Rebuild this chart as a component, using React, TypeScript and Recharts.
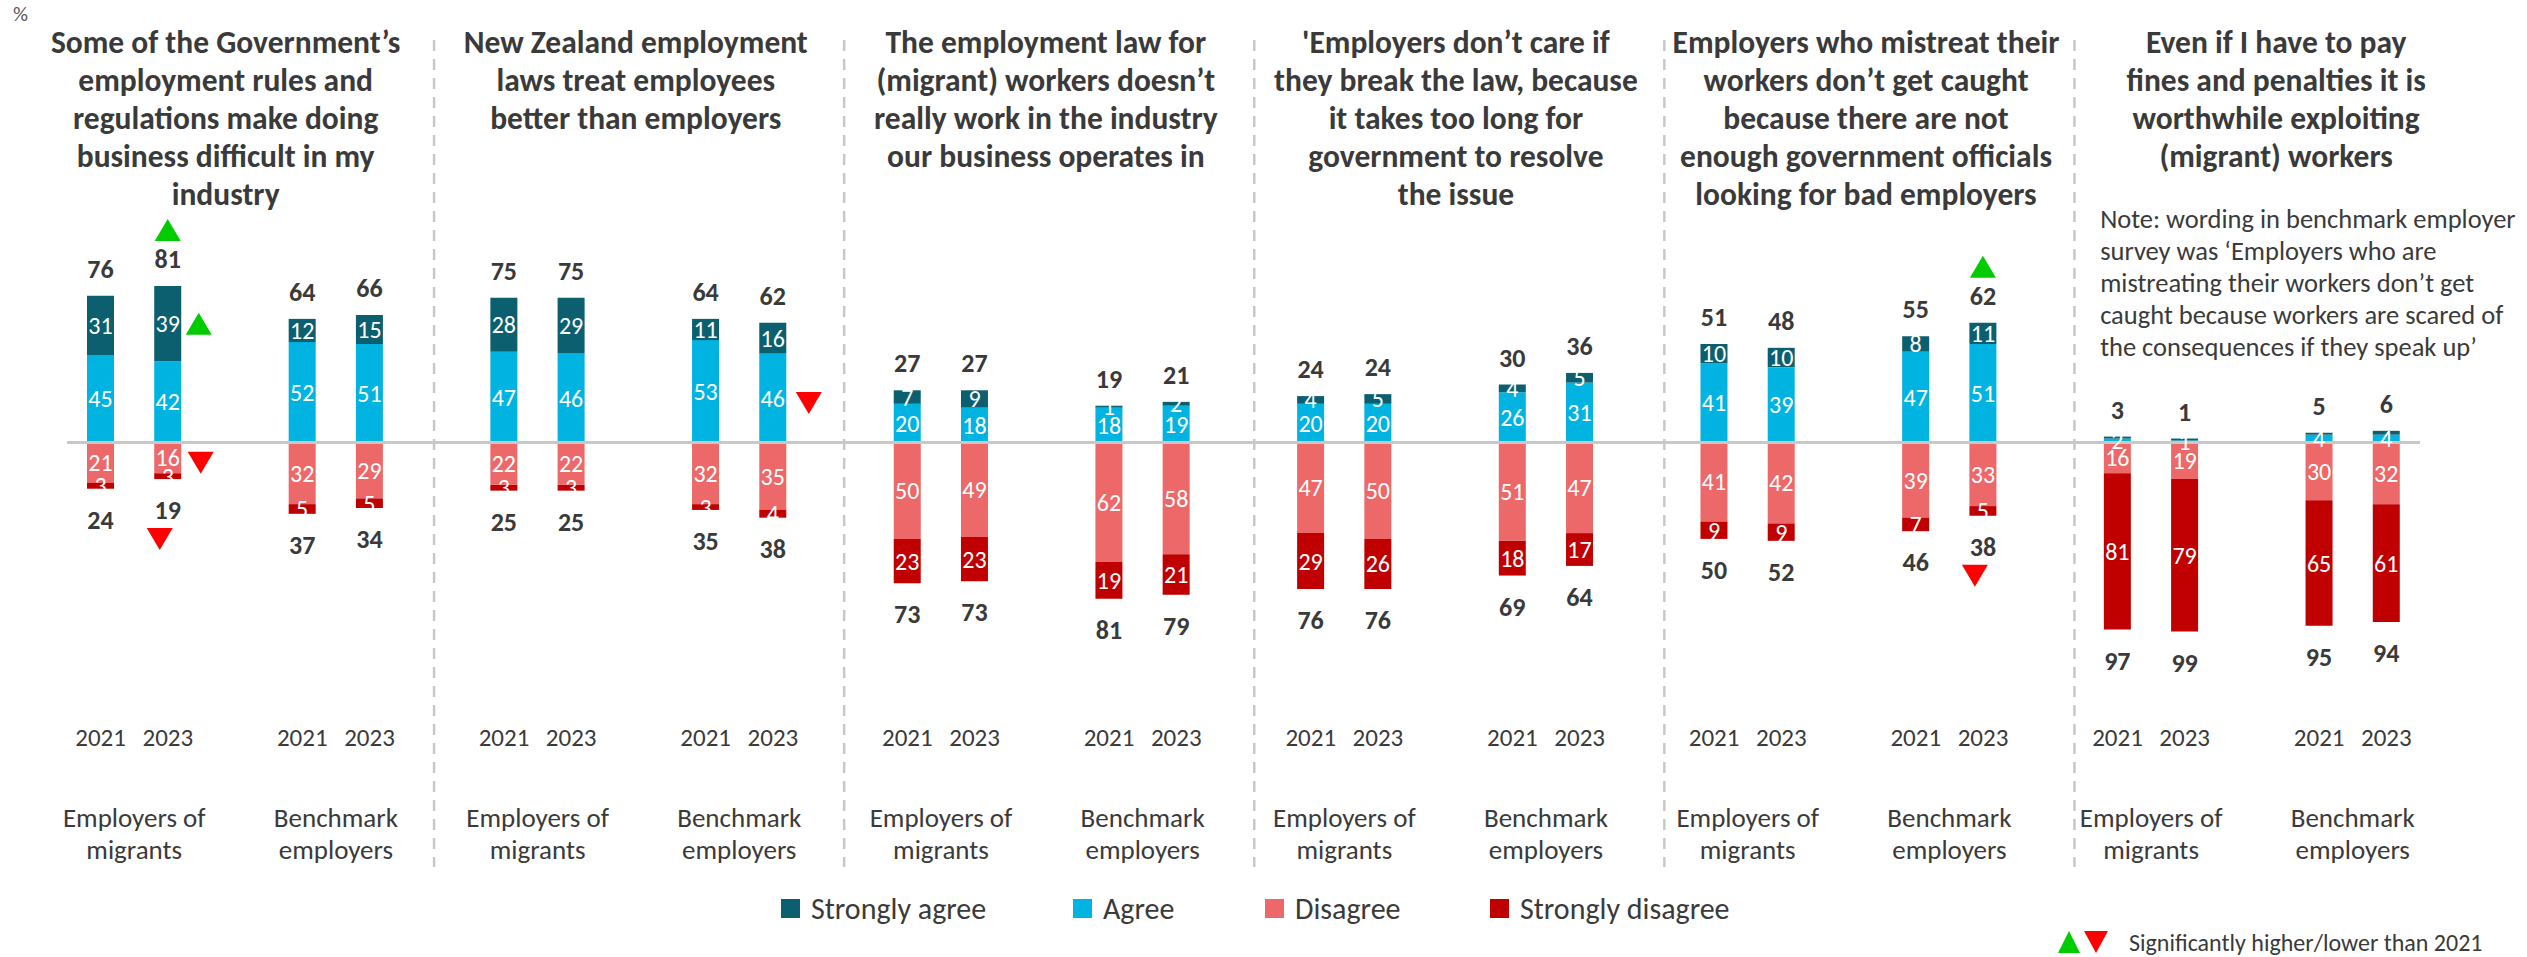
import { BarChart, Bar, XAxis, YAxis, ReferenceLine, LabelList } from "recharts"

// 6 statements x 4 bars (EoM 2021, EoM 2023, Benchmark 2021, Benchmark 2023)
const strongAgree = [31, 39, 12, 15, 28, 29, 11, 16, 7, 9, 1, 2, 4, 5, 4, 5, 10, 10, 8, 11, 1, 1, 1, 2]
const agree = [45, 42, 52, 51, 47, 46, 53, 46, 20, 18, 18, 19, 20, 20, 26, 31, 41, 39, 47, 51, 2, 1, 4, 4]
const disagree = [21, 16, 32, 29, 22, 22, 32, 35, 50, 49, 62, 58, 47, 50, 51, 47, 41, 42, 39, 33, 16, 19, 30, 32]
const strongDisagree = [3, 3, 5, 5, 3, 3, 3, 4, 23, 23, 19, 21, 29, 26, 18, 17, 9, 9, 7, 5, 81, 79, 65, 61]
const agreeTotal = [76, 81, 64, 66, 75, 75, 64, 62, 27, 27, 19, 21, 24, 24, 30, 36, 51, 48, 55, 62, 3, 1, 5, 6]
const disagreeTotal = [24, 19, 37, 34, 25, 25, 35, 38, 73, 73, 81, 79, 76, 76, 69, 64, 50, 52, 46, 38, 97, 99, 95, 94]

const years = ["2021", "2023", "2021", "2023"]
const groups = [["Employers of", "migrants"], ["Benchmark", "employers"]]

const titles = [
  ["Some of the Government’s", "employment rules and", "regulations make doing", "business difficult in my", "industry"],
  ["New Zealand employment", "laws treat employees", "better than employers"],
  ["The employment law for", "(migrant) workers doesn’t", "really work in the industry", "our business operates in"],
  ["'Employers don’t care if", "they break the law, because", "it takes too long for", "government to resolve", "the issue"],
  ["Employers who mistreat their", "workers don’t get caught", "because there are not", "enough government officials", "looking for bad employers"],
  ["Even if I have to pay", "fines and penalties it is", "worthwhile exploiting", "(migrant) workers"],
]
const noteLines = [
  "Note: wording in benchmark employer",
  "survey was ‘Employers who are",
  "mistreating their workers don’t get",
  "caught because workers are scared of",
  "the consequences if they speak up’",
]

// significance vs 2021
type SigMark = { bar: number; at: "agreeTotal" | "strongAgree" | "agree" | "disagree" | "disagreeTotal"; dir: "up" | "down" }
const sigMarks: SigMark[] = [
  { bar: 1, at: "agreeTotal", dir: "up" },
  { bar: 1, at: "strongAgree", dir: "up" },
  { bar: 1, at: "disagree", dir: "down" },
  { bar: 1, at: "disagreeTotal", dir: "down" },
  { bar: 7, at: "agree", dir: "down" },
  { bar: 19, at: "agreeTotal", dir: "up" },
  { bar: 19, at: "disagreeTotal", dir: "down" },
]
const hiddenSaLabels = [20, 21, 22, 23]

// panel frame, in slot units
const separators = [5.46, 11.56, 17.66, 23.76, 29.86]
const titleCenters = [2.36, 8.46, 14.56, 20.66, 26.76, 32.86]

const PANELS = 6
const SLOTS = 35
const W = 2527
const H = 957
const MARGIN = { top: 40, right: 107, bottom: 89, left: 67 }
const SLOT_W = (W - MARGIN.left - MARGIN.right) / SLOTS
const PLOT_TOP = MARGIN.top
const PLOT_BOTTOM = H - MARGIN.bottom - 1
const FONT = "Carlito, Calibri, Lato, 'Noto Sans', sans-serif"

const C_SA = "#0B5F6E"
const C_A = "#00B3E0"
const C_D = "#EC6869"
const C_SD = "#C00000"
const GREEN = "#00CC00"
const RED = "#FF0000"
const TEXT = "#3A3A3A"
const GRID = "#C8C8C8"

type Row = { key: string; slot: number; panel: number; local: number; bar: number | null; sa?: number; a?: number; d?: number; sd?: number }

const rows: Row[] = []
for (let p = 0; p < PANELS; p++) {
  for (let s = 0; s < 6; s++) {
    if (rows.length >= SLOTS) break
    const slot = rows.length
    const local = s < 2 ? s : s === 3 || s === 4 ? s - 1 : -1
    if (local < 0) {
      rows.push({ key: `gap${p}-${s}`, slot, panel: p, local: s, bar: null })
      continue
    }
    const b = p * 4 + local
    rows.push({ key: `b${b}`, slot, panel: p, local: s, bar: b, sa: strongAgree[b], a: agree[b], d: -disagree[b], sd: -strongDisagree[b] })
  }
}
const rowByKey: Record<string, Row> = Object.fromEntries(rows.map(r => [r.key, r]))

function box(props: any) {
  const vb = props.viewBox && props.viewBox.width != null ? props.viewBox : props
  const x = Number(vb.x), y = Number(vb.y), w = Number(vb.width), h = Number(vb.height)
  return { cx: x + w / 2, top: Math.min(y, y + h), bottom: Math.max(y, y + h) }
}

function Tri({ cx, cy, dir }: { cx: number; cy: number; dir: "up" | "down" }) {
  const hw = 13, hh = 11
  const pts = dir === "up"
    ? `${cx - hw},${cy + hh} ${cx + hw},${cy + hh} ${cx},${cy - hh}`
    : `${cx - hw},${cy - hh} ${cx + hw},${cy - hh} ${cx},${cy + hh}`
  return <polygon points={pts} fill={dir === "up" ? GREEN : RED} />
}

const segValues: Record<string, number[]> = { sa: strongAgree, a: agree, d: disagree, sd: strongDisagree }

const makeLabel = (key: "sa" | "a" | "d" | "sd") => (props: any) => {
  const bar = props.value
  if (bar == null || typeof bar !== "number") return null
  const { cx, top, bottom } = box(props)
  const mid = (top + bottom) / 2
  const showSeg = !(key === "sa" && hiddenSaLabels.includes(bar))
  const marks = sigMarks.filter(m => m.bar === bar)
  return (
    <g>
      {showSeg && (
        <text x={cx} y={mid} textAnchor="middle" dominantBaseline="central" fill="#fff" fontSize={24} fontFamily={FONT}>
          {segValues[key][bar]}
        </text>
      )}
      {key === "sa" && (
        <text x={cx} y={top - 27} textAnchor="middle" dominantBaseline="central" fill={TEXT} fontSize={26} fontWeight={700} fontFamily={FONT}>
          {agreeTotal[bar]}
        </text>
      )}
      {key === "sd" && (
        <text x={cx} y={bottom + 31} textAnchor="middle" dominantBaseline="central" fill={TEXT} fontSize={26} fontWeight={700} fontFamily={FONT}>
          {disagreeTotal[bar]}
        </text>
      )}
      {marks.map((m, i) => {
        if (key === "sa" && m.at === "agreeTotal") return <Tri key={i} cx={cx} cy={top - 56} dir={m.dir} />
        if (key === "sa" && m.at === "strongAgree") return <Tri key={i} cx={cx + 31} cy={mid} dir={m.dir} />
        if (key === "a" && m.at === "agree") return <Tri key={i} cx={cx + 36} cy={mid + 5} dir={m.dir} />
        if (key === "d" && m.at === "disagree") return <Tri key={i} cx={cx + 33} cy={mid + 5} dir={m.dir} />
        if (key === "sd" && m.at === "disagreeTotal") return <Tri key={i} cx={cx - 8} cy={bottom + 60} dir={m.dir} />
        return null
      })}
    </g>
  )
}

// one tick per slot: year + group label under bars, title over the middle gap, separator in the trailing gap
const renderSlotTick = (props: any) => {
  const row = rowByKey[props.payload?.value]
  if (!row) return <g />
  const x = Number(props.x)
  const px = (s: number) => x + (s - (row.slot + 0.5)) * SLOT_W
  if (row.bar != null) {
    const first = row.local === 0 || row.local === 3
    const grp = groups[row.local < 2 ? 0 : 1]
    return (
      <g>
        <text x={x} y={737} textAnchor="middle" dominantBaseline="central" fill={TEXT} fontSize={25} fontFamily={FONT}>
          {years[row.bar % 4]}
        </text>
        {first && (
          <text textAnchor="middle" dominantBaseline="central" fill={TEXT} fontSize={27} fontFamily={FONT}>
            {grp.map((l, k) => (
              <tspan key={k} x={px(row.slot + 1)} y={817 + k * 32}>{l}</tspan>
            ))}
          </text>
        )}
      </g>
    )
  }
  if (row.local === 2) {
    const cx = px(titleCenters[row.panel])
    return (
      <g>
        <text textAnchor="middle" dominantBaseline="central" fill={TEXT} fontSize={31.5} fontWeight={700} fontFamily={FONT}>
          {titles[row.panel].map((l, k) => (
            <tspan key={k} x={cx} y={42 + k * 38}>{l}</tspan>
          ))}
        </text>
        {row.panel === PANELS - 1 && (
          <text textAnchor="start" dominantBaseline="central" fill={TEXT} fontSize={26.5} fontFamily={FONT}>
            {noteLines.map((l, k) => (
              <tspan key={k} x={cx - 176} y={219 + k * 32}>{l}</tspan>
            ))}
          </text>
        )}
      </g>
    )
  }
  const sx = px(separators[row.panel])
  return <line x1={sx} x2={sx} y1={PLOT_TOP} y2={PLOT_BOTTOM} stroke={GRID} strokeWidth={2.5} strokeDasharray="11 8" />
}

const legendItems = [
  { name: "Strongly agree", color: C_SA, left: 781 },
  { name: "Agree", color: C_A, left: 1073 },
  { name: "Disagree", color: C_D, left: 1265 },
  { name: "Strongly disagree", color: C_SD, left: 1490 },
]

export default function App() {
  return (
    <div style={{ position: "absolute", left: 0, top: 0, width: W, height: H, background: "#fff", fontFamily: FONT, color: TEXT }}>
      <div style={{ position: "absolute", left: 13, top: 3, fontSize: 21, lineHeight: "22px", color: "#595959" }}>%</div>
      <BarChart width={W} height={H} data={rows} stackOffset="sign" margin={MARGIN}>
        <XAxis dataKey="key" tick={renderSlotTick} interval={0} axisLine={false} tickLine={false} height={1} />
        <YAxis hide domain={[-220, 208.5]} allowDataOverflow />
        <Bar dataKey="a" stackId="s" fill={C_A} barSize={27} isAnimationActive={false}>
          <LabelList dataKey="bar" content={makeLabel("a")} />
        </Bar>
        <Bar dataKey="sa" stackId="s" fill={C_SA} barSize={27} isAnimationActive={false}>
          <LabelList dataKey="bar" content={makeLabel("sa")} />
        </Bar>
        <Bar dataKey="d" stackId="s" fill={C_D} barSize={27} isAnimationActive={false}>
          <LabelList dataKey="bar" content={makeLabel("d")} />
        </Bar>
        <Bar dataKey="sd" stackId="s" fill={C_SD} barSize={27} isAnimationActive={false}>
          <LabelList dataKey="bar" content={makeLabel("sd")} />
        </Bar>
        <ReferenceLine y={0} stroke={GRID} strokeWidth={3} />
      </BarChart>
      {legendItems.map(it => (
        <div key={it.name} style={{ position: "absolute", left: it.left, top: 889, height: 38, display: "flex", alignItems: "center", gap: 11, fontSize: 30, whiteSpace: "nowrap" }}>
          <span style={{ width: 19, height: 19, background: it.color, display: "inline-block" }} />
          <span>{it.name}</span>
        </div>
      ))}
      <div style={{ position: "absolute", left: 2058, top: 928, height: 28, display: "flex", alignItems: "center", fontSize: 24, whiteSpace: "nowrap" }}>
        <svg width={52} height={24} style={{ marginRight: 19 }}>
          <polygon points="0,23 22,23 11,1" fill={GREEN} />
          <polygon points="26,1 50,1 38,23" fill={RED} />
        </svg>
        <span>Significantly higher/lower than 2021</span>
      </div>
    </div>
  )
}
